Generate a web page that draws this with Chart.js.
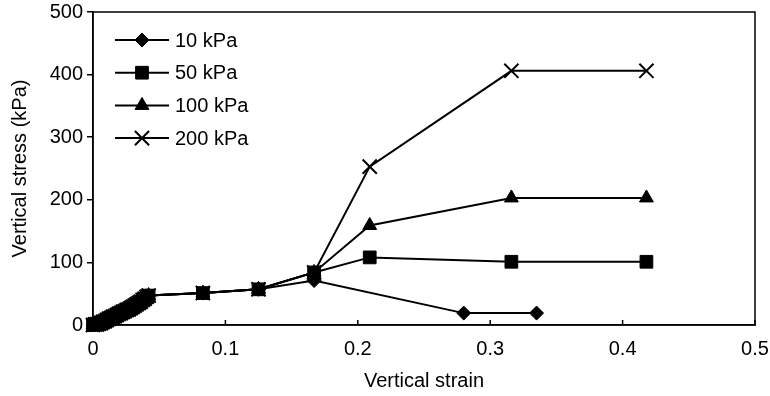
<!DOCTYPE html>
<html>
<head>
<meta charset="utf-8">
<script src="https://cdn.jsdelivr.net/npm/chart.js@4/dist/chart.umd.min.js"></script>
<style>
  html, body { margin: 0; padding: 0; background: #fff; }
  #wrap { width: 770px; height: 396px; }
</style>
</head>
<body>
<div id="wrap"><canvas id="stressChart" width="770" height="396"></canvas></div>
<script>
// early loading branch, shared by every test (dense readings)
const initialStrain = [0, 0.0015, 0.003, 0.0045, 0.006, 0.0075, 0.009, 0.0105, 0.012, 0.0135, 0.015, 0.0165, 0.018, 0.0195, 0.021,
  0.0225, 0.024, 0.0255, 0.027, 0.0285, 0.030, 0.0315, 0.033, 0.0345, 0.036, 0.0375, 0.039, 0.0405, 0.042];
const initialStress = [0, 1, 1, 2, 3, 5, 6, 8, 10, 11, 13, 14, 16, 18, 19,
  21, 22, 24, 25, 27, 29, 31, 33, 35, 37, 40, 42, 45, 47];

// later points per test
const strain10 = [0.083, 0.125, 0.167, 0.28, 0.335];
const stress10 = [51, 57, 71, 19, 19];
const strainHigh = [0.083, 0.125, 0.167, 0.209, 0.316, 0.418];
const stress50 = [51, 57, 84, 108, 101, 101];
const stress100 = [51, 57, 84, 159, 203, 203];
const stress200 = [51, 57, 84, 253, 406, 406];

const seriesLabels = ["10 kPa", "50 kPa", "100 kPa", "200 kPa"];
const xTicks = [0, 0.1, 0.2, 0.3, 0.4, 0.5];
const yTicks = [0, 100, 200, 300, 400, 500];

const toPoints = (xs, ys) => xs.map((x, i) => ({ x, y: ys[i] }));

const FONT = { family: "'Liberation Sans', Arial, sans-serif", size: 20 };

const makeSeries = (label, laterStrain, laterStress, style, radius) => ({
  label,
  data: toPoints([...initialStrain, ...laterStrain], [...initialStress, ...laterStress]),
  showLine: true,
  borderColor: "#000",
  backgroundColor: "#000",
  borderWidth: 2,
  pointStyle: style,
  pointRadius: radius,
  pointBackgroundColor: "#000",
  pointBorderColor: "#000",
  pointBorderWidth: style === "crossRot" ? 2 : 1,
  clip: false,
});

const frameAndLegend = {
  id: "frameAndLegend",
  afterDraw(chart) {
    const { ctx, chartArea: area, scales } = chart;
    ctx.save();
    ctx.strokeStyle = "#000";
    ctx.lineWidth = 1.5;
    ctx.strokeRect(area.left, area.top, area.right - area.left, area.bottom - area.top);

    // x ticks point inward
    xTicks.forEach((v) => {
      const px = scales.x.getPixelForValue(v);
      ctx.beginPath();
      ctx.moveTo(px, area.bottom);
      ctx.lineTo(px, area.bottom - 5);
      ctx.stroke();
    });

    // legend inside the plot, top left
    ctx.font = `${FONT.size}px ${FONT.family}`;
    ctx.textBaseline = "middle";
    ctx.fillStyle = "#000";
    chart.data.datasets.forEach((ds, i) => {
      const y = area.top + 28 + i * 32.7;
      const x0 = area.left + 22;
      const x1 = area.left + 76;
      ctx.lineWidth = 2;
      ctx.beginPath();
      ctx.moveTo(x0, y);
      ctx.lineTo(x1, y);
      ctx.stroke();
      ctx.lineWidth = ds.pointBorderWidth;
      Chart.helpers.drawPoint(ctx, {
        pointStyle: ds.pointStyle,
        radius: ds.pointRadius,
        borderWidth: ds.pointBorderWidth,
        rotation: 0,
      }, (x0 + x1) / 2, y);
      ctx.fillText(ds.label, x1 + 6, y + 1);
    });
    ctx.restore();
  },
};

const initializeChart = () => {
  const canvas = document.getElementById("stressChart");
  new Chart(canvas, {
    type: "scatter",
    data: {
      datasets: [
        makeSeries(seriesLabels[0], strain10, stress10, "rectRot", 7),
        makeSeries(seriesLabels[1], strainHigh, stress50, "rect", 9),
        makeSeries(seriesLabels[2], strainHigh, stress100, "triangle", 8),
        makeSeries(seriesLabels[3], strainHigh, stress200, "crossRot", 10),
      ],
    },
    options: {
      responsive: false,
      animation: false,
      devicePixelRatio: 1,
      layout: { padding: { top: 12, right: 15, bottom: 0, left: 0 } },
      plugins: {
        legend: { display: false },
        tooltip: { enabled: false },
      },
      scales: {
        x: {
          type: "linear",
          min: 0,
          max: 0.5,
          afterBuildTicks: (s) => { s.ticks = xTicks.map((v) => ({ value: v })); },
          afterFit: (s) => {
            s.height = 71;
            s.paddingLeft = 0;
            s.paddingRight = 0;
          },
          grid: { display: false },
          border: { display: true, color: "#000", width: 1.5 },
          ticks: { color: "#000", font: FONT, padding: 4, maxRotation: 0, callback: (v) => String(v) },
          title: { display: true, text: "Vertical strain", color: "#000", font: FONT, padding: { top: 0, bottom: 3 } },
        },
        y: {
          type: "linear",
          min: 0,
          max: 500,
          afterBuildTicks: (s) => { s.ticks = yTicks.map((v) => ({ value: v })); },
          afterFit: (s) => {
            s.width = 93;
            s.paddingTop = 0;
            s.paddingBottom = 0;
          },
          grid: { drawOnChartArea: false, drawTicks: true, tickLength: 6, color: "#000", lineWidth: 1.5 },
          border: { display: true, color: "#000", width: 1.5 },
          ticks: { color: "#000", font: FONT, padding: 4 },
          title: { display: true, text: "Vertical stress (kPa)", color: "#000", font: FONT, padding: { top: 8, bottom: 0 } },
        },
      },
    },
    plugins: [frameAndLegend],
  });
};

document.addEventListener("DOMContentLoaded", initializeChart);
</script>
</body>
</html>
